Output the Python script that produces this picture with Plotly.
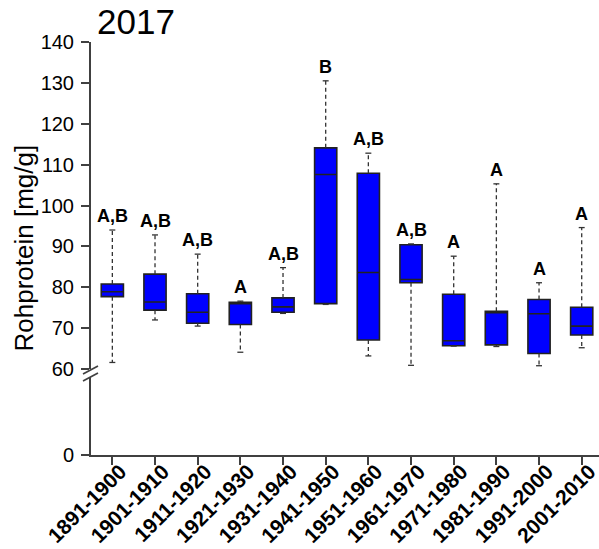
import plotly.graph_objects as go

# Crude protein by decade (2017 sampling), box-plot statistics in mg/g
decades = ["1891-1900", "1901-1910", "1911-1920", "1921-1930", "1931-1940", "1941-1950",
           "1951-1960", "1961-1970", "1971-1980", "1981-1990", "1991-2000", "2001-2010"]
whisker_hi = [94.0, 92.8, 88.1, 76.6, 84.8, 130.5, 112.8, 90.6, 87.6, 105.3, 81.1, 94.6]
q3 = [80.8, 83.2, 78.4, 76.3, 77.4, 114.1, 107.9, 90.4, 78.3, 74.1, 77.0, 75.1]
median = [78.9, 76.4, 73.9, 76.0, 75.2, 107.6, 83.6, 81.9, 66.9, 73.8, 73.5, 70.5]
q1 = [77.7, 74.4, 71.2, 70.9, 73.9, 76.0, 67.1, 81.1, 65.7, 65.9, 63.8, 68.3]
whisker_lo = [61.6, 72.0, 70.5, 64.1, 73.6, 75.8, 63.2, 60.9, 65.6, 65.5, 60.8, 65.2]
groups = ["A,B", "A,B", "A,B", "A", "A,B", "B", "A,B", "A,B", "A", "A", "A", "A"]

upper_ticks = [60, 70, 80, 90, 100, 110, 120, 130, 140]

FONT = "Liberation Sans, Arial, sans-serif"
AXIS_COL = "#404040"
W, H = 599, 549
ML, MR, MT, MB = 91, 0, 42, 94
plot_w = W - ML - MR
plot_h = H - MT - MB

xs = list(range(len(decades)))

# Dashed whiskers and short caps
wx, wy, cx, cy = [], [], [], []
cap = 0.07
for i in xs:
    wx += [i, i, None, i, i, None]
    wy += [q3[i], whisker_hi[i], None, q1[i], whisker_lo[i], None]
    for v in (whisker_hi[i], whisker_lo[i]):
        cx += [i - cap, i + cap, None]
        cy += [v, v, None]

fig = go.Figure()
# keeps the lower (0-based) axis segment alive
fig.add_trace(go.Scatter(x=[0], y=[0], mode="markers", marker=dict(opacity=0),
                         yaxis="y", hoverinfo="skip", showlegend=False))
fig.add_trace(go.Scatter(x=wx, y=wy, mode="lines", yaxis="y2",
                         line=dict(color="#333333", width=1.3, dash="4px,3px"),
                         hoverinfo="skip", showlegend=False))
fig.add_trace(go.Scatter(x=cx, y=cy, mode="lines", yaxis="y2",
                         line=dict(color="#333333", width=1.3),
                         hoverinfo="skip", showlegend=False))
fig.add_trace(go.Box(x=xs, q1=q1, median=median, q3=q3,
                     lowerfence=q1, upperfence=q3, yaxis="y2",
                     width=0.52, whiskerwidth=0, boxpoints=False,
                     fillcolor="#0000FF", line=dict(color="#222222", width=1.6),
                     hoverinfo="skip", showlegend=False))

annotations = []
for i in xs:
    annotations.append(dict(x=i, y=whisker_hi[i], xref="x", yref="y2", text=groups[i],
                            showarrow=False, yanchor="bottom", yshift=2,
                            font=dict(family=FONT, size=18, color="black", weight="bold")))
annotations.append(dict(x=(95 - ML) / plot_w, y=1, xref="paper", yref="paper", text="2017",
                        showarrow=False, xanchor="left", yanchor="bottom", yshift=-1,
                        font=dict(family=FONT, size=35, color="black")))
annotations.append(dict(x=(23 - ML) / plot_w, y=0.5, xref="paper", yref="paper",
                        text="Rohprotein [mg/g]", textangle=-90, showarrow=False,
                        xanchor="center", yanchor="middle",
                        font=dict(family=FONT, size=26, color="black")))

def py(pix):
    return (H - MB - pix) / plot_h

def px(pix):
    return (pix - ML) / plot_w

upper_bottom = py(369)
lower_top = py(377)

# Axis break marks
shapes = []
for y_left, y_right in ((374, 366), (381, 373)):
    shapes.append(dict(type="line", xref="paper", yref="paper",
                       x0=px(83), x1=px(98), y0=py(y_left), y1=py(y_right),
                       line=dict(color=AXIS_COL, width=1.6)))

tickfont = dict(family=FONT, size=20, color="black")
fig.update_layout(
    width=W, height=H,
    margin=dict(l=ML, r=MR, t=MT, b=MB, pad=0, autoexpand=False),
    paper_bgcolor="white", plot_bgcolor="white",
    xaxis=dict(range=[-0.5, -0.5 + plot_w / 42.67], tickmode="array", tickvals=xs,
               ticktext=decades, tickangle=-45, showgrid=False, zeroline=False,
               showline=True, linecolor=AXIS_COL, linewidth=2,
               ticks="outside", ticklen=8, tickwidth=2, tickcolor=AXIS_COL,
               tickfont=dict(family=FONT, size=21, color="black", weight="bold"),
               ticklabelstandoff=-14, ticklabelshift=8, ticklabeloverflow="allow",
               automargin=False, anchor="y"),
    yaxis=dict(domain=[0, lower_top], range=[0, 20], tickmode="array", tickvals=[0],
               showgrid=False, zeroline=False, showline=True, linecolor=AXIS_COL,
               linewidth=2, ticks="outside", ticklen=8, tickwidth=2, tickcolor=AXIS_COL,
               tickfont=tickfont, ticklabelstandoff=3, automargin=False, anchor="x"),
    yaxis2=dict(domain=[upper_bottom, 1], range=[60, 140], tickmode="array",
                tickvals=upper_ticks, showgrid=False, zeroline=False, showline=True,
                linecolor=AXIS_COL, linewidth=2, ticks="outside", ticklen=8, tickwidth=2,
                tickcolor=AXIS_COL, tickfont=tickfont, ticklabelstandoff=3,
                automargin=False, anchor="x"),
    annotations=annotations,
    shapes=shapes,
    showlegend=False,
)

fig.write_html("out.html")
